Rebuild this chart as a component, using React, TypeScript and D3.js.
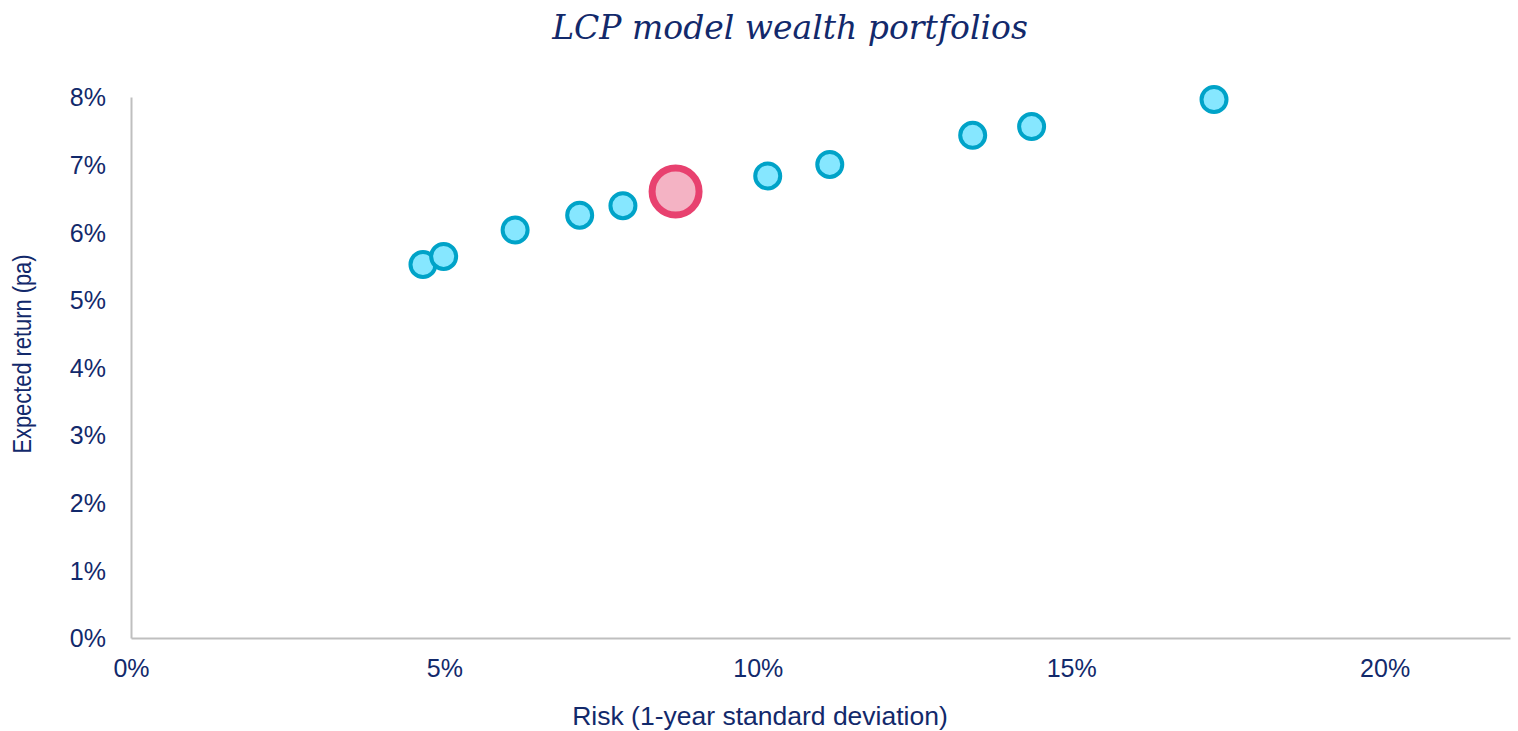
import React from 'react';
import * as d3 from 'd3';

// Portfolio risk (1-year std dev, %) and expected return (% pa)
const riskValues = [4.65, 4.98, 6.12, 7.15, 7.84, 10.15, 11.14, 13.42, 14.36, 17.27];
const returnValues = [5.53, 5.65, 6.04, 6.26, 6.40, 6.84, 7.01, 7.44, 7.57, 7.97];
// highlighted portfolio
const highlightRisk = [8.68];
const highlightReturn = [6.61];

const xTicks = [0, 5, 10, 15, 20];
const yTicks = [0, 1, 2, 3, 4, 5, 6, 7, 8];

const WIDTH = 1518;
const HEIGHT = 731;
const navy = '#12296B';

const App: React.FC = () => {
  const margin = { top: 97.5, right: 7.5, bottom: 92.5, left: 131.5 };

  const x = d3.scaleLinear().domain([0, 22]).range([margin.left, WIDTH - margin.right]);
  const y = d3.scaleLinear().domain([0, 8]).range([HEIGHT - margin.bottom, margin.top]);

  const points = riskValues.map((r, i) => ({ r, ret: returnValues[i] }));
  const highlight = highlightRisk.map((r, i) => ({ r, ret: highlightReturn[i] }));

  return (
    <svg
      width={WIDTH}
      height={HEIGHT}
      style={{ position: 'absolute', left: 0, top: 0, background: '#fff' }}
      fontFamily="'Liberation Sans', Arial, sans-serif"
    >
      {/* title */}
      <text
        x={790}
        y={39}
        textAnchor="middle"
        fontFamily="'DejaVu Serif', Georgia, serif"
        fontStyle="italic"
        fontSize={33}
        fill={navy}
      >
        LCP model wealth portfolios
      </text>

      {/* axes */}
      <line x1={x(0)} x2={x(0)} y1={y(8)} y2={y(0)} stroke="#BFBFBF" strokeWidth={2} />
      <line x1={x(0)} x2={x(22)} y1={y(0)} y2={y(0)} stroke="#BFBFBF" strokeWidth={2} />

      {yTicks.map(t => (
        <text key={'y' + t} x={106} y={y(t)} dy="0.35em" textAnchor="end" fontSize={25} fill={navy}>
          {t}%
        </text>
      ))}
      {xTicks.map(t => (
        <text key={'x' + t} x={x(t)} y={668} dy="0.35em" textAnchor="middle" fontSize={25} fill={navy}>
          {t}%
        </text>
      ))}

      <text x={760} y={716} dy="0.35em" textAnchor="middle" fontSize={26.5} fill={navy}>
        Risk (1-year standard deviation)
      </text>
      <text
        transform="translate(22, 354) rotate(-90)"
        dy="0.35em"
        textAnchor="middle"
        fontSize={26}
        textLength={199}
        lengthAdjust="spacingAndGlyphs"
        fill={navy}
      >
        Expected return (pa)
      </text>

      {/* portfolios */}
      {points.map((d, i) => (
        <circle
          key={i}
          cx={x(d.r)}
          cy={y(d.ret)}
          r={12.5}
          fill="#86E7FF"
          stroke="#00A3C8"
          strokeWidth={4}
        />
      ))}
      {highlight.map((d, i) => (
        <circle
          key={'h' + i}
          cx={x(d.r)}
          cy={y(d.ret)}
          r={23.5}
          fill="#F4B3C4"
          stroke="#E8416F"
          strokeWidth={7}
        />
      ))}
    </svg>
  );
};

export default App;
